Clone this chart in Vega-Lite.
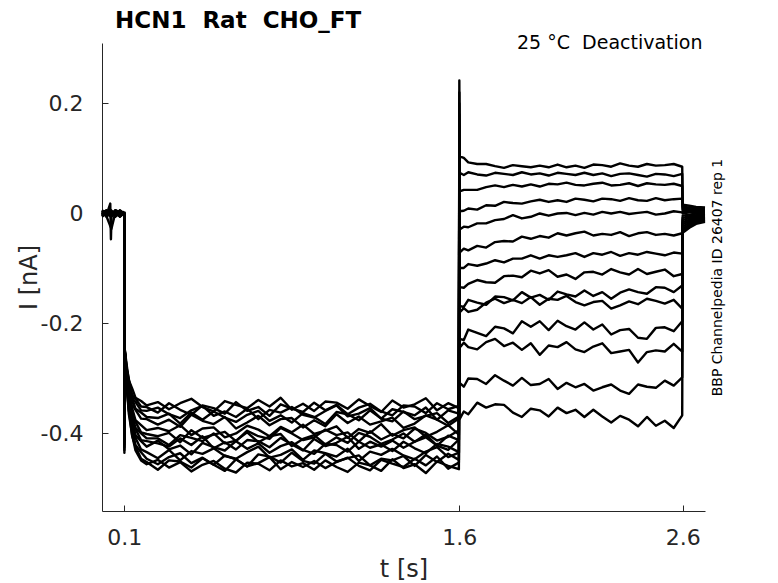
{
"$schema": "https://vega.github.io/schema/vega-lite/v6.json",
"width": 603,
"height": 468,
"autosize": "none",
"padding": {"left": 102, "top": 43, "right": 73, "bottom": 72},
"background": "white",
"config": {"view": {"stroke": null}, "axis": {"grid": false}},
"title": {"text": "HCN1\u00a0 Rat\u00a0 CHO_FT", "anchor": "start", "frame": "group", "dx": 13, "dy": 22, "offset": 4, "baseline": "alphabetic", "font": "DejaVu Sans", "fontSize": 23, "fontWeight": "bold", "color": "black"},
"datasets": {"tr": [
{"s":1,"t":0,"i":0.002},{"s":1,"t":0.02,"i":-0.004},{"s":1,"t":0.04,"i":0.005},{"s":1,"t":0.06,"i":-0.003},{"s":1,"t":0.08,"i":0.004},{"s":1,"t":0.1,"i":-0.001},{"s":1,"t":0.1003,"i":-0.435},
{"s":1,"t":0.1012,"i":-0.245},{"s":1,"t":0.11,"i":-0.274},{"s":1,"t":0.12,"i":-0.303},{"s":1,"t":0.135,"i":-0.318},{"s":1,"t":0.15,"i":-0.335},{"s":1,"t":0.175,"i":-0.341},{"s":1,"t":0.2,"i":-0.349},
{"s":1,"t":0.25,"i":-0.343},{"s":1,"t":0.3,"i":-0.356},{"s":1,"t":0.35,"i":-0.345},{"s":1,"t":0.4,"i":-0.337},{"s":1,"t":0.45,"i":-0.352},{"s":1,"t":0.5,"i":-0.36},{"s":1,"t":0.55,"i":-0.341},{"s":1,"t":0.6,"i":-0.348},{"s":1,"t":0.65,"i":-0.354},{"s":1,"t":0.7,"i":-0.339},{"s":1,"t":0.75,"i":-0.351},{"s":1,"t":0.8,"i":-0.335},{"s":1,"t":0.85,"i":-0.357},{"s":1,"t":0.9,"i":-0.346},{"s":1,"t":0.95,"i":-0.359},{"s":1,"t":1.0,"i":-0.342},{"s":1,"t":1.05,"i":-0.344},{"s":1,"t":1.1,"i":-0.355},{"s":1,"t":1.15,"i":-0.338},{"s":1,"t":1.2,"i":-0.35},{"s":1,"t":1.25,"i":-0.361},{"s":1,"t":1.3,"i":-0.34},{"s":1,"t":1.35,"i":-0.353},{"s":1,"t":1.4,"i":-0.347},{"s":1,"t":1.45,"i":-0.336},{"s":1,"t":1.5,"i":-0.358},{"s":1,"t":1.55,"i":-0.345},{"s":1,"t":1.598,"i":-0.354},
{"s":1,"t":1.6,"i":0.242},{"s":1,"t":1.6012,"i":0.104},{"s":1,"t":1.62,"i":0.101},{"s":1,"t":1.64,"i":0.093},{"s":1,"t":1.68,"i":0.09},{"s":1,"t":1.72,"i":0.09},{"s":1,"t":1.76,"i":0.086},{"s":1,"t":1.8,"i":0.083},{"s":1,"t":1.84,"i":0.088},{"s":1,"t":1.88,"i":0.086},{"s":1,"t":1.92,"i":0.084},{"s":1,"t":1.96,"i":0.087},{"s":1,"t":2.0,"i":0.084},{"s":1,"t":2.04,"i":0.089},{"s":1,"t":2.08,"i":0.084},{"s":1,"t":2.12,"i":0.087},{"s":1,"t":2.16,"i":0.083},{"s":1,"t":2.2,"i":0.089},{"s":1,"t":2.24,"i":0.088},{"s":1,"t":2.28,"i":0.085},{"s":1,"t":2.32,"i":0.091},{"s":1,"t":2.36,"i":0.087},{"s":1,"t":2.4,"i":0.085},{"s":1,"t":2.44,"i":0.09},{"s":1,"t":2.48,"i":0.087},{"s":1,"t":2.52,"i":0.088},{"s":1,"t":2.56,"i":0.09},{"s":1,"t":2.598,"i":0.085},
{"s":1,"t":2.6,"i":0.016},{"s":1,"t":2.63,"i":0.014},{"s":1,"t":2.66,"i":0.012},{"s":1,"t":2.7,"i":0.011},

{"s":2,"t":0,"i":-0.003},{"s":2,"t":0.02,"i":0.005},{"s":2,"t":0.04,"i":-0.002},{"s":2,"t":0.06,"i":0.006},{"s":2,"t":0.08,"i":-0.005},{"s":2,"t":0.1,"i":0.002},{"s":2,"t":0.1003,"i":-0.43},
{"s":2,"t":0.1012,"i":-0.246},{"s":2,"t":0.11,"i":-0.28},{"s":2,"t":0.12,"i":-0.301},{"s":2,"t":0.135,"i":-0.33},{"s":2,"t":0.15,"i":-0.337},{"s":2,"t":0.175,"i":-0.351},{"s":2,"t":0.2,"i":-0.352},
{"s":2,"t":0.25,"i":-0.362},{"s":2,"t":0.3,"i":-0.345},{"s":2,"t":0.35,"i":-0.357},{"s":2,"t":0.4,"i":-0.366},{"s":2,"t":0.45,"i":-0.349},{"s":2,"t":0.5,"i":-0.354},{"s":2,"t":0.55,"i":-0.364},{"s":2,"t":0.6,"i":-0.343},{"s":2,"t":0.65,"i":-0.359},{"s":2,"t":0.7,"i":-0.352},{"s":2,"t":0.75,"i":-0.368},{"s":2,"t":0.8,"i":-0.347},{"s":2,"t":0.85,"i":-0.355},{"s":2,"t":0.9,"i":-0.361},{"s":2,"t":0.95,"i":-0.344},{"s":2,"t":1.0,"i":-0.358},{"s":2,"t":1.05,"i":-0.348},{"s":2,"t":1.1,"i":-0.365},{"s":2,"t":1.15,"i":-0.353},{"s":2,"t":1.2,"i":-0.346},{"s":2,"t":1.25,"i":-0.36},{"s":2,"t":1.3,"i":-0.367},{"s":2,"t":1.35,"i":-0.349},{"s":2,"t":1.4,"i":-0.351},{"s":2,"t":1.45,"i":-0.363},{"s":2,"t":1.5,"i":-0.345},{"s":2,"t":1.55,"i":-0.356},{"s":2,"t":1.598,"i":-0.35},
{"s":2,"t":1.6,"i":0.22},{"s":2,"t":1.6012,"i":0.074},{"s":2,"t":1.62,"i":0.07},{"s":2,"t":1.64,"i":0.075},{"s":2,"t":1.68,"i":0.071},{"s":2,"t":1.72,"i":0.069},{"s":2,"t":1.76,"i":0.074},{"s":2,"t":1.8,"i":0.072},{"s":2,"t":1.84,"i":0.07},{"s":2,"t":1.88,"i":0.075},{"s":2,"t":1.92,"i":0.071},{"s":2,"t":1.96,"i":0.073},{"s":2,"t":2.0,"i":0.069},{"s":2,"t":2.04,"i":0.074},{"s":2,"t":2.08,"i":0.072},{"s":2,"t":2.12,"i":0.07},{"s":2,"t":2.16,"i":0.074},{"s":2,"t":2.2,"i":0.07},{"s":2,"t":2.24,"i":0.073},{"s":2,"t":2.28,"i":0.068},{"s":2,"t":2.32,"i":0.072},{"s":2,"t":2.36,"i":0.073},{"s":2,"t":2.4,"i":0.07},{"s":2,"t":2.44,"i":0.067},{"s":2,"t":2.48,"i":0.072},{"s":2,"t":2.52,"i":0.071},{"s":2,"t":2.56,"i":0.068},{"s":2,"t":2.598,"i":0.072},
{"s":2,"t":2.6,"i":0.012},{"s":2,"t":2.63,"i":0.011},{"s":2,"t":2.66,"i":0.01},{"s":2,"t":2.7,"i":0.009},

{"s":3,"t":0,"i":0.001},{"s":3,"t":0.02,"i":-0.003},{"s":3,"t":0.037,"i":0.018},{"s":3,"t":0.04,"i":-0.047},{"s":3,"t":0.043,"i":0.003},{"s":3,"t":0.06,"i":-0.004},{"s":3,"t":0.08,"i":0.005},{"s":3,"t":0.1,"i":0},{"s":3,"t":0.1003,"i":-0.425},
{"s":3,"t":0.1012,"i":-0.244},{"s":3,"t":0.11,"i":-0.283},{"s":3,"t":0.12,"i":-0.305},{"s":3,"t":0.135,"i":-0.335},{"s":3,"t":0.15,"i":-0.343},{"s":3,"t":0.175,"i":-0.358},{"s":3,"t":0.2,"i":-0.359},
{"s":3,"t":0.25,"i":-0.353},{"s":3,"t":0.3,"i":-0.365},{"s":3,"t":0.35,"i":-0.372},{"s":3,"t":0.4,"i":-0.358},{"s":3,"t":0.45,"i":-0.35},{"s":3,"t":0.5,"i":-0.368},{"s":3,"t":0.55,"i":-0.36},{"s":3,"t":0.6,"i":-0.37},{"s":3,"t":0.65,"i":-0.355},{"s":3,"t":0.7,"i":-0.374},{"s":3,"t":0.75,"i":-0.357},{"s":3,"t":0.8,"i":-0.362},{"s":3,"t":0.85,"i":-0.352},{"s":3,"t":0.9,"i":-0.366},{"s":3,"t":0.95,"i":-0.371},{"s":3,"t":1.0,"i":-0.359},{"s":3,"t":1.05,"i":-0.349},{"s":3,"t":1.1,"i":-0.369},{"s":3,"t":1.15,"i":-0.364},{"s":3,"t":1.2,"i":-0.354},{"s":3,"t":1.25,"i":-0.373},{"s":3,"t":1.3,"i":-0.356},{"s":3,"t":1.35,"i":-0.361},{"s":3,"t":1.4,"i":-0.367},{"s":3,"t":1.45,"i":-0.353},{"s":3,"t":1.5,"i":-0.375},{"s":3,"t":1.55,"i":-0.358},{"s":3,"t":1.598,"i":-0.364},
{"s":3,"t":1.6,"i":0.2},{"s":3,"t":1.6012,"i":0.04},{"s":3,"t":1.62,"i":0.043},{"s":3,"t":1.64,"i":0.043},{"s":3,"t":1.68,"i":0.043},{"s":3,"t":1.72,"i":0.048},{"s":3,"t":1.76,"i":0.051},{"s":3,"t":1.8,"i":0.048},{"s":3,"t":1.84,"i":0.052},{"s":3,"t":1.88,"i":0.049},{"s":3,"t":1.92,"i":0.053},{"s":3,"t":1.96,"i":0.049},{"s":3,"t":2.0,"i":0.054},{"s":3,"t":2.04,"i":0.053},{"s":3,"t":2.08,"i":0.056},{"s":3,"t":2.12,"i":0.052},{"s":3,"t":2.16,"i":0.051},{"s":3,"t":2.2,"i":0.054},{"s":3,"t":2.24,"i":0.056},{"s":3,"t":2.28,"i":0.051},{"s":3,"t":2.32,"i":0.052},{"s":3,"t":2.36,"i":0.055},{"s":3,"t":2.4,"i":0.05},{"s":3,"t":2.44,"i":0.055},{"s":3,"t":2.48,"i":0.053},{"s":3,"t":2.52,"i":0.052},{"s":3,"t":2.56,"i":0.054},{"s":3,"t":2.598,"i":0.05},
{"s":3,"t":2.6,"i":0.008},{"s":3,"t":2.63,"i":0.008},{"s":3,"t":2.66,"i":0.007},{"s":3,"t":2.7,"i":0.007},

{"s":4,"t":0,"i":-0.005},{"s":4,"t":0.02,"i":0.003},{"s":4,"t":0.04,"i":-0.006},{"s":4,"t":0.06,"i":0.001},{"s":4,"t":0.08,"i":0.003},{"s":4,"t":0.1,"i":-0.002},{"s":4,"t":0.1003,"i":-0.42},
{"s":4,"t":0.1012,"i":-0.248},{"s":4,"t":0.11,"i":-0.281},{"s":4,"t":0.12,"i":-0.314},{"s":4,"t":0.135,"i":-0.336},{"s":4,"t":0.15,"i":-0.355},{"s":4,"t":0.175,"i":-0.362},{"s":4,"t":0.2,"i":-0.37},
{"s":4,"t":0.25,"i":-0.372},{"s":4,"t":0.3,"i":-0.364},{"s":4,"t":0.35,"i":-0.382},{"s":4,"t":0.4,"i":-0.362},{"s":4,"t":0.45,"i":-0.375},{"s":4,"t":0.5,"i":-0.36},{"s":4,"t":0.55,"i":-0.371},{"s":4,"t":0.6,"i":-0.379},{"s":4,"t":0.65,"i":-0.366},{"s":4,"t":0.7,"i":-0.359},{"s":4,"t":0.75,"i":-0.377},{"s":4,"t":0.8,"i":-0.367},{"s":4,"t":0.85,"i":-0.38},{"s":4,"t":0.9,"i":-0.363},{"s":4,"t":0.95,"i":-0.37},{"s":4,"t":1.0,"i":-0.383},{"s":4,"t":1.05,"i":-0.361},{"s":4,"t":1.1,"i":-0.365},{"s":4,"t":1.15,"i":-0.376},{"s":4,"t":1.2,"i":-0.358},{"s":4,"t":1.25,"i":-0.373},{"s":4,"t":1.3,"i":-0.378},{"s":4,"t":1.35,"i":-0.36},{"s":4,"t":1.4,"i":-0.374},{"s":4,"t":1.45,"i":-0.368},{"s":4,"t":1.5,"i":-0.363},{"s":4,"t":1.55,"i":-0.381},{"s":4,"t":1.598,"i":-0.369},
{"s":4,"t":1.6,"i":0.18},{"s":4,"t":1.6012,"i":0.004},{"s":4,"t":1.62,"i":0.005},{"s":4,"t":1.64,"i":0.009},{"s":4,"t":1.68,"i":0.007},{"s":4,"t":1.72,"i":0.015},{"s":4,"t":1.76,"i":0.014},{"s":4,"t":1.8,"i":0.021},{"s":4,"t":1.84,"i":0.019},{"s":4,"t":1.88,"i":0.018},{"s":4,"t":1.92,"i":0.022},{"s":4,"t":1.96,"i":0.025},{"s":4,"t":2.0,"i":0.021},{"s":4,"t":2.04,"i":0.024},{"s":4,"t":2.08,"i":0.021},{"s":4,"t":2.12,"i":0.027},{"s":4,"t":2.16,"i":0.025},{"s":4,"t":2.2,"i":0.022},{"s":4,"t":2.24,"i":0.027},{"s":4,"t":2.28,"i":0.026},{"s":4,"t":2.32,"i":0.023},{"s":4,"t":2.36,"i":0.028},{"s":4,"t":2.4,"i":0.024},{"s":4,"t":2.44,"i":0.023},{"s":4,"t":2.48,"i":0.028},{"s":4,"t":2.52,"i":0.024},{"s":4,"t":2.56,"i":0.026},{"s":4,"t":2.598,"i":0.027},
{"s":4,"t":2.6,"i":0.004},{"s":4,"t":2.63,"i":0.005},{"s":4,"t":2.66,"i":0.005},{"s":4,"t":2.7,"i":0.005},

{"s":5,"t":0,"i":0.006},{"s":5,"t":0.02,"i":-0.002},{"s":5,"t":0.04,"i":0.003},{"s":5,"t":0.06,"i":-0.005},{"s":5,"t":0.08,"i":-0.001},{"s":5,"t":0.1,"i":0.003},{"s":5,"t":0.1003,"i":-0.415},
{"s":5,"t":0.1012,"i":-0.247},{"s":5,"t":0.11,"i":-0.288},{"s":5,"t":0.12,"i":-0.314},{"s":5,"t":0.135,"i":-0.347},{"s":5,"t":0.15,"i":-0.357},{"s":5,"t":0.175,"i":-0.373},{"s":5,"t":0.2,"i":-0.374},
{"s":5,"t":0.25,"i":-0.384},{"s":5,"t":0.3,"i":-0.375},{"s":5,"t":0.35,"i":-0.388},{"s":5,"t":0.4,"i":-0.366},{"s":5,"t":0.45,"i":-0.377},{"s":5,"t":0.5,"i":-0.383},{"s":5,"t":0.55,"i":-0.37},{"s":5,"t":0.6,"i":-0.391},{"s":5,"t":0.65,"i":-0.38},{"s":5,"t":0.7,"i":-0.368},{"s":5,"t":0.75,"i":-0.385},{"s":5,"t":0.8,"i":-0.374},{"s":5,"t":0.85,"i":-0.372},{"s":5,"t":0.9,"i":-0.389},{"s":5,"t":0.95,"i":-0.376},{"s":5,"t":1.0,"i":-0.387},{"s":5,"t":1.05,"i":-0.365},{"s":5,"t":1.1,"i":-0.381},{"s":5,"t":1.15,"i":-0.369},{"s":5,"t":1.2,"i":-0.384},{"s":5,"t":1.25,"i":-0.378},{"s":5,"t":1.3,"i":-0.371},{"s":5,"t":1.35,"i":-0.39},{"s":5,"t":1.4,"i":-0.382},{"s":5,"t":1.45,"i":-0.367},{"s":5,"t":1.5,"i":-0.375},{"s":5,"t":1.55,"i":-0.386},{"s":5,"t":1.598,"i":-0.373},
{"s":5,"t":1.6,"i":0.16},{"s":5,"t":1.6012,"i":-0.029},{"s":5,"t":1.62,"i":-0.024},{"s":5,"t":1.64,"i":-0.025},{"s":5,"t":1.68,"i":-0.018},{"s":5,"t":1.72,"i":-0.018},{"s":5,"t":1.76,"i":-0.012},{"s":5,"t":1.8,"i":-0.01},{"s":5,"t":1.84,"i":-0.003},{"s":5,"t":1.88,"i":-0.009},{"s":5,"t":1.92,"i":-0.006},{"s":5,"t":1.96,"i":0},{"s":5,"t":2.0,"i":-0.004},{"s":5,"t":2.04,"i":0},{"s":5,"t":2.08,"i":0.001},{"s":5,"t":2.12,"i":-0.003},{"s":5,"t":2.16,"i":0.001},{"s":5,"t":2.2,"i":-0.002},{"s":5,"t":2.24,"i":0.003},{"s":5,"t":2.28,"i":0},{"s":5,"t":2.32,"i":0.003},{"s":5,"t":2.36,"i":-0.001},{"s":5,"t":2.4,"i":0.001},{"s":5,"t":2.44,"i":0.003},{"s":5,"t":2.48,"i":-0.002},{"s":5,"t":2.52,"i":0},{"s":5,"t":2.56,"i":0.004},{"s":5,"t":2.598,"i":0.002},
{"s":5,"t":2.6,"i":0},{"s":5,"t":2.63,"i":0.002},{"s":5,"t":2.66,"i":0.003},{"s":5,"t":2.7,"i":0.003},

{"s":6,"t":0,"i":-0.001},{"s":6,"t":0.02,"i":0.006},{"s":6,"t":0.04,"i":-0.004},{"s":6,"t":0.06,"i":0.004},{"s":6,"t":0.08,"i":-0.006},{"s":6,"t":0.1,"i":0.001},{"s":6,"t":0.1003,"i":-0.41},
{"s":6,"t":0.1012,"i":-0.249},{"s":6,"t":0.11,"i":-0.289},{"s":6,"t":0.12,"i":-0.328},{"s":6,"t":0.135,"i":-0.354},{"s":6,"t":0.15,"i":-0.376},{"s":6,"t":0.175,"i":-0.385},{"s":6,"t":0.2,"i":-0.394},
{"s":6,"t":0.25,"i":-0.39},{"s":6,"t":0.3,"i":-0.396},{"s":6,"t":0.35,"i":-0.385},{"s":6,"t":0.4,"i":-0.403},{"s":6,"t":0.45,"i":-0.391},{"s":6,"t":0.5,"i":-0.389},{"s":6,"t":0.55,"i":-0.407},{"s":6,"t":0.6,"i":-0.4},{"s":6,"t":0.65,"i":-0.386},{"s":6,"t":0.7,"i":-0.393},{"s":6,"t":0.75,"i":-0.405},{"s":6,"t":0.8,"i":-0.388},{"s":6,"t":0.85,"i":-0.398},{"s":6,"t":0.9,"i":-0.384},{"s":6,"t":0.95,"i":-0.401},{"s":6,"t":1.0,"i":-0.395},{"s":6,"t":1.05,"i":-0.387},{"s":6,"t":1.1,"i":-0.408},{"s":6,"t":1.15,"i":-0.392},{"s":6,"t":1.2,"i":-0.399},{"s":6,"t":1.25,"i":-0.383},{"s":6,"t":1.3,"i":-0.404},{"s":6,"t":1.35,"i":-0.394},{"s":6,"t":1.4,"i":-0.389},{"s":6,"t":1.45,"i":-0.406},{"s":6,"t":1.5,"i":-0.397},{"s":6,"t":1.55,"i":-0.385},{"s":6,"t":1.598,"i":-0.402},
{"s":6,"t":1.6,"i":0.14},{"s":6,"t":1.6012,"i":-0.071},{"s":6,"t":1.62,"i":-0.064},{"s":6,"t":1.64,"i":-0.067},{"s":6,"t":1.68,"i":-0.059},{"s":6,"t":1.72,"i":-0.062},{"s":6,"t":1.76,"i":-0.052},{"s":6,"t":1.8,"i":-0.05},{"s":6,"t":1.84,"i":-0.051},{"s":6,"t":1.88,"i":-0.042},{"s":6,"t":1.92,"i":-0.046},{"s":6,"t":1.96,"i":-0.041},{"s":6,"t":2.0,"i":-0.044},{"s":6,"t":2.04,"i":-0.036},{"s":6,"t":2.08,"i":-0.04},{"s":6,"t":2.12,"i":-0.036},{"s":6,"t":2.16,"i":-0.033},{"s":6,"t":2.2,"i":-0.04},{"s":6,"t":2.24,"i":-0.037},{"s":6,"t":2.28,"i":-0.039},{"s":6,"t":2.32,"i":-0.034},{"s":6,"t":2.36,"i":-0.041},{"s":6,"t":2.4,"i":-0.036},{"s":6,"t":2.44,"i":-0.034},{"s":6,"t":2.48,"i":-0.039},{"s":6,"t":2.52,"i":-0.037},{"s":6,"t":2.56,"i":-0.04},{"s":6,"t":2.598,"i":-0.036},
{"s":6,"t":2.6,"i":-0.004},{"s":6,"t":2.63,"i":-0.002},{"s":6,"t":2.66,"i":0},{"s":6,"t":2.7,"i":0.001},

{"s":7,"t":0,"i":0.003},{"s":7,"t":0.02,"i":-0.005},{"s":7,"t":0.042,"i":-0.028},{"s":7,"t":0.06,"i":0.002},{"s":7,"t":0.08,"i":-0.003},{"s":7,"t":0.1,"i":-0.002},{"s":7,"t":0.1003,"i":-0.41},
{"s":7,"t":0.1012,"i":-0.246},{"s":7,"t":0.11,"i":-0.297},{"s":7,"t":0.12,"i":-0.328},{"s":7,"t":0.135,"i":-0.365},{"s":7,"t":0.15,"i":-0.379},{"s":7,"t":0.175,"i":-0.398},{"s":7,"t":0.2,"i":-0.401},
{"s":7,"t":0.25,"i":-0.405},{"s":7,"t":0.3,"i":-0.399},{"s":7,"t":0.35,"i":-0.416},{"s":7,"t":0.4,"i":-0.394},{"s":7,"t":0.45,"i":-0.408},{"s":7,"t":0.5,"i":-0.402},{"s":7,"t":0.55,"i":-0.397},{"s":7,"t":0.6,"i":-0.414},{"s":7,"t":0.65,"i":-0.395},{"s":7,"t":0.7,"i":-0.405},{"s":7,"t":0.75,"i":-0.41},{"s":7,"t":0.8,"i":-0.39},{"s":7,"t":0.85,"i":-0.4},{"s":7,"t":0.9,"i":-0.412},{"s":7,"t":0.95,"i":-0.407},{"s":7,"t":1.0,"i":-0.393},{"s":7,"t":1.05,"i":-0.403},{"s":7,"t":1.1,"i":-0.398},{"s":7,"t":1.15,"i":-0.415},{"s":7,"t":1.2,"i":-0.396},{"s":7,"t":1.25,"i":-0.411},{"s":7,"t":1.3,"i":-0.401},{"s":7,"t":1.35,"i":-0.409},{"s":7,"t":1.4,"i":-0.391},{"s":7,"t":1.45,"i":-0.399},{"s":7,"t":1.5,"i":-0.413},{"s":7,"t":1.55,"i":-0.406},{"s":7,"t":1.598,"i":-0.394},
{"s":7,"t":1.6,"i":0.12},{"s":7,"t":1.6012,"i":-0.099},{"s":7,"t":1.62,"i":-0.099},{"s":7,"t":1.64,"i":-0.092},{"s":7,"t":1.68,"i":-0.095},{"s":7,"t":1.72,"i":-0.091},{"s":7,"t":1.76,"i":-0.085},{"s":7,"t":1.8,"i":-0.089},{"s":7,"t":1.84,"i":-0.082},{"s":7,"t":1.88,"i":-0.082},{"s":7,"t":1.92,"i":-0.076},{"s":7,"t":1.96,"i":-0.082},{"s":7,"t":2.0,"i":-0.076},{"s":7,"t":2.04,"i":-0.079},{"s":7,"t":2.08,"i":-0.076},{"s":7,"t":2.12,"i":-0.072},{"s":7,"t":2.16,"i":-0.079},{"s":7,"t":2.2,"i":-0.072},{"s":7,"t":2.24,"i":-0.075},{"s":7,"t":2.28,"i":-0.07},{"s":7,"t":2.32,"i":-0.077},{"s":7,"t":2.36,"i":-0.072},{"s":7,"t":2.4,"i":-0.075},{"s":7,"t":2.44,"i":-0.07},{"s":7,"t":2.48,"i":-0.073},{"s":7,"t":2.52,"i":-0.076},{"s":7,"t":2.56,"i":-0.071},{"s":7,"t":2.598,"i":-0.073},
{"s":7,"t":2.6,"i":-0.008},{"s":7,"t":2.63,"i":-0.005},{"s":7,"t":2.66,"i":-0.003},{"s":7,"t":2.7,"i":-0.001},

{"s":8,"t":0,"i":-0.004},{"s":8,"t":0.02,"i":0.002},{"s":8,"t":0.04,"i":0.006},{"s":8,"t":0.06,"i":-0.002},{"s":8,"t":0.08,"i":0.005},{"s":8,"t":0.1,"i":0},{"s":8,"t":0.1003,"i":-0.405},
{"s":8,"t":0.1012,"i":-0.25},{"s":8,"t":0.11,"i":-0.294},{"s":8,"t":0.12,"i":-0.337},{"s":8,"t":0.135,"i":-0.366},{"s":8,"t":0.15,"i":-0.39},{"s":8,"t":0.175,"i":-0.4},{"s":8,"t":0.2,"i":-0.409},
{"s":8,"t":0.25,"i":-0.409},{"s":8,"t":0.3,"i":-0.421},{"s":8,"t":0.35,"i":-0.403},{"s":8,"t":0.4,"i":-0.408},{"s":8,"t":0.45,"i":-0.414},{"s":8,"t":0.5,"i":-0.4},{"s":8,"t":0.55,"i":-0.418},{"s":8,"t":0.6,"i":-0.413},{"s":8,"t":0.65,"i":-0.398},{"s":8,"t":0.7,"i":-0.416},{"s":8,"t":0.75,"i":-0.405},{"s":8,"t":0.8,"i":-0.401},{"s":8,"t":0.85,"i":-0.423},{"s":8,"t":0.9,"i":-0.41},{"s":8,"t":0.95,"i":-0.403},{"s":8,"t":1.0,"i":-0.42},{"s":8,"t":1.05,"i":-0.407},{"s":8,"t":1.1,"i":-0.417},{"s":8,"t":1.15,"i":-0.399},{"s":8,"t":1.2,"i":-0.406},{"s":8,"t":1.25,"i":-0.419},{"s":8,"t":1.3,"i":-0.411},{"s":8,"t":1.35,"i":-0.4},{"s":8,"t":1.4,"i":-0.415},{"s":8,"t":1.45,"i":-0.402},{"s":8,"t":1.5,"i":-0.422},{"s":8,"t":1.55,"i":-0.404},{"s":8,"t":1.598,"i":-0.412},
{"s":8,"t":1.6,"i":0.1},{"s":8,"t":1.6012,"i":-0.134},{"s":8,"t":1.62,"i":-0.135},{"s":8,"t":1.64,"i":-0.128},{"s":8,"t":1.68,"i":-0.121},{"s":8,"t":1.72,"i":-0.125},{"s":8,"t":1.76,"i":-0.126},{"s":8,"t":1.8,"i":-0.114},{"s":8,"t":1.84,"i":-0.113},{"s":8,"t":1.88,"i":-0.116},{"s":8,"t":1.92,"i":-0.104},{"s":8,"t":1.96,"i":-0.109},{"s":8,"t":2.0,"i":-0.103},{"s":8,"t":2.04,"i":-0.115},{"s":8,"t":2.08,"i":-0.111},{"s":8,"t":2.12,"i":-0.119},{"s":8,"t":2.16,"i":-0.107},{"s":8,"t":2.2,"i":-0.106},{"s":8,"t":2.24,"i":-0.111},{"s":8,"t":2.28,"i":-0.101},{"s":8,"t":2.32,"i":-0.107},{"s":8,"t":2.36,"i":-0.111},{"s":8,"t":2.4,"i":-0.101},{"s":8,"t":2.44,"i":-0.11},{"s":8,"t":2.48,"i":-0.106},{"s":8,"t":2.52,"i":-0.102},{"s":8,"t":2.56,"i":-0.114},{"s":8,"t":2.598,"i":-0.11},
{"s":8,"t":2.6,"i":-0.012},{"s":8,"t":2.63,"i":-0.008},{"s":8,"t":2.66,"i":-0.005},{"s":8,"t":2.7,"i":-0.003},

{"s":9,"t":0,"i":0.005},{"s":9,"t":0.02,"i":-0.006},{"s":9,"t":0.04,"i":0.001},{"s":9,"t":0.06,"i":0.003},{"s":9,"t":0.08,"i":-0.004},{"s":9,"t":0.1,"i":0.002},{"s":9,"t":0.1003,"i":-0.4},
{"s":9,"t":0.1012,"i":-0.249},{"s":9,"t":0.11,"i":-0.302},{"s":9,"t":0.12,"i":-0.336},{"s":9,"t":0.135,"i":-0.377},{"s":9,"t":0.15,"i":-0.392},{"s":9,"t":0.175,"i":-0.412},{"s":9,"t":0.2,"i":-0.414},
{"s":9,"t":0.25,"i":-0.418},{"s":9,"t":0.3,"i":-0.424},{"s":9,"t":0.35,"i":-0.409},{"s":9,"t":0.4,"i":-0.421},{"s":9,"t":0.45,"i":-0.405},{"s":9,"t":0.5,"i":-0.427},{"s":9,"t":0.55,"i":-0.416},{"s":9,"t":0.6,"i":-0.429},{"s":9,"t":0.65,"i":-0.412},{"s":9,"t":0.7,"i":-0.414},{"s":9,"t":0.75,"i":-0.425},{"s":9,"t":0.8,"i":-0.408},{"s":9,"t":0.85,"i":-0.42},{"s":9,"t":0.9,"i":-0.431},{"s":9,"t":0.95,"i":-0.41},{"s":9,"t":1.0,"i":-0.423},{"s":9,"t":1.05,"i":-0.417},{"s":9,"t":1.1,"i":-0.406},{"s":9,"t":1.15,"i":-0.428},{"s":9,"t":1.2,"i":-0.415},{"s":9,"t":1.25,"i":-0.424},{"s":9,"t":1.3,"i":-0.413},{"s":9,"t":1.35,"i":-0.426},{"s":9,"t":1.4,"i":-0.415},{"s":9,"t":1.45,"i":-0.407},{"s":9,"t":1.5,"i":-0.422},{"s":9,"t":1.55,"i":-0.43},{"s":9,"t":1.598,"i":-0.411},
{"s":9,"t":1.6,"i":0.08},{"s":9,"t":1.6012,"i":-0.168},{"s":9,"t":1.62,"i":-0.17},{"s":9,"t":1.64,"i":-0.157},{"s":9,"t":1.68,"i":-0.162},{"s":9,"t":1.72,"i":-0.166},{"s":9,"t":1.76,"i":-0.151},{"s":9,"t":1.8,"i":-0.152},{"s":9,"t":1.84,"i":-0.158},{"s":9,"t":1.88,"i":-0.143},{"s":9,"t":1.92,"i":-0.153},{"s":9,"t":1.96,"i":-0.148},{"s":9,"t":2.0,"i":-0.157},{"s":9,"t":2.04,"i":-0.142},{"s":9,"t":2.08,"i":-0.147},{"s":9,"t":2.12,"i":-0.151},{"s":9,"t":2.16,"i":-0.14},{"s":9,"t":2.2,"i":-0.15},{"s":9,"t":2.24,"i":-0.143},{"s":9,"t":2.28,"i":-0.155},{"s":9,"t":2.32,"i":-0.144},{"s":9,"t":2.36,"i":-0.138},{"s":9,"t":2.4,"i":-0.143},{"s":9,"t":2.44,"i":-0.146},{"s":9,"t":2.48,"i":-0.134},{"s":9,"t":2.52,"i":-0.135},{"s":9,"t":2.56,"i":-0.143},{"s":9,"t":2.598,"i":-0.131},
{"s":9,"t":2.6,"i":-0.016},{"s":9,"t":2.63,"i":-0.011},{"s":9,"t":2.66,"i":-0.008},{"s":9,"t":2.7,"i":-0.005},

{"s":10,"t":0,"i":-0.002},{"s":10,"t":0.02,"i":0.004},{"s":10,"t":0.04,"i":-0.005},{"s":10,"t":0.06,"i":0.006},{"s":10,"t":0.08,"i":0.002},{"s":10,"t":0.1,"i":-0.003},{"s":10,"t":0.1003,"i":-0.4},
{"s":10,"t":0.1012,"i":-0.251},{"s":10,"t":0.11,"i":-0.299},{"s":10,"t":0.12,"i":-0.345},{"s":10,"t":0.135,"i":-0.376},{"s":10,"t":0.15,"i":-0.403},{"s":10,"t":0.175,"i":-0.414},{"s":10,"t":0.2,"i":-0.424},
{"s":10,"t":0.25,"i":-0.413},{"s":10,"t":0.3,"i":-0.429},{"s":10,"t":0.35,"i":-0.422},{"s":10,"t":0.4,"i":-0.438},{"s":10,"t":0.45,"i":-0.417},{"s":10,"t":0.5,"i":-0.425},{"s":10,"t":0.55,"i":-0.431},{"s":10,"t":0.6,"i":-0.414},{"s":10,"t":0.65,"i":-0.428},{"s":10,"t":0.7,"i":-0.418},{"s":10,"t":0.75,"i":-0.435},{"s":10,"t":0.8,"i":-0.423},{"s":10,"t":0.85,"i":-0.416},{"s":10,"t":0.9,"i":-0.43},{"s":10,"t":0.95,"i":-0.437},{"s":10,"t":1.0,"i":-0.419},{"s":10,"t":1.05,"i":-0.421},{"s":10,"t":1.1,"i":-0.433},{"s":10,"t":1.15,"i":-0.415},{"s":10,"t":1.2,"i":-0.426},{"s":10,"t":1.25,"i":-0.42},{"s":10,"t":1.3,"i":-0.432},{"s":10,"t":1.35,"i":-0.415},{"s":10,"t":1.4,"i":-0.427},{"s":10,"t":1.45,"i":-0.436},{"s":10,"t":1.5,"i":-0.419},{"s":10,"t":1.55,"i":-0.424},{"s":10,"t":1.598,"i":-0.434},
{"s":10,"t":1.6,"i":0.06},{"s":10,"t":1.6012,"i":-0.18},{"s":10,"t":1.62,"i":-0.172},{"s":10,"t":1.64,"i":-0.179},{"s":10,"t":1.68,"i":-0.175},{"s":10,"t":1.72,"i":-0.162},{"s":10,"t":1.76,"i":-0.155},{"s":10,"t":1.8,"i":-0.163},{"s":10,"t":1.84,"i":-0.157},{"s":10,"t":1.88,"i":-0.163},{"s":10,"t":1.92,"i":-0.152},{"s":10,"t":1.96,"i":-0.166},{"s":10,"t":2.0,"i":-0.155},{"s":10,"t":2.04,"i":-0.157},{"s":10,"t":2.08,"i":-0.15},{"s":10,"t":2.12,"i":-0.161},{"s":10,"t":2.16,"i":-0.167},{"s":10,"t":2.2,"i":-0.161},{"s":10,"t":2.24,"i":-0.159},{"s":10,"t":2.28,"i":-0.173},{"s":10,"t":2.32,"i":-0.167},{"s":10,"t":2.36,"i":-0.16},{"s":10,"t":2.4,"i":-0.165},{"s":10,"t":2.44,"i":-0.155},{"s":10,"t":2.48,"i":-0.159},{"s":10,"t":2.52,"i":-0.164},{"s":10,"t":2.56,"i":-0.157},{"s":10,"t":2.598,"i":-0.173},
{"s":10,"t":2.6,"i":-0.02},{"s":10,"t":2.63,"i":-0.014},{"s":10,"t":2.66,"i":-0.01},{"s":10,"t":2.7,"i":-0.007},

{"s":11,"t":0,"i":0.001},{"s":11,"t":0.02,"i":-0.003},{"s":11,"t":0.04,"i":0.004},{"s":11,"t":0.06,"i":-0.006},{"s":11,"t":0.08,"i":0.003},{"s":11,"t":0.1,"i":0.001},{"s":11,"t":0.1003,"i":-0.395},
{"s":11,"t":0.1012,"i":-0.25},{"s":11,"t":0.11,"i":-0.307},{"s":11,"t":0.12,"i":-0.346},{"s":11,"t":0.135,"i":-0.391},{"s":11,"t":0.15,"i":-0.408},{"s":11,"t":0.175,"i":-0.429},{"s":11,"t":0.2,"i":-0.434},
{"s":11,"t":0.25,"i":-0.445},{"s":11,"t":0.3,"i":-0.43},{"s":11,"t":0.35,"i":-0.449},{"s":11,"t":0.4,"i":-0.432},{"s":11,"t":0.45,"i":-0.437},{"s":11,"t":0.5,"i":-0.427},{"s":11,"t":0.55,"i":-0.441},{"s":11,"t":0.6,"i":-0.446},{"s":11,"t":0.65,"i":-0.434},{"s":11,"t":0.7,"i":-0.424},{"s":11,"t":0.75,"i":-0.444},{"s":11,"t":0.8,"i":-0.439},{"s":11,"t":0.85,"i":-0.429},{"s":11,"t":0.9,"i":-0.448},{"s":11,"t":0.95,"i":-0.431},{"s":11,"t":1.0,"i":-0.436},{"s":11,"t":1.05,"i":-0.442},{"s":11,"t":1.1,"i":-0.428},{"s":11,"t":1.15,"i":-0.45},{"s":11,"t":1.2,"i":-0.433},{"s":11,"t":1.25,"i":-0.439},{"s":11,"t":1.3,"i":-0.428},{"s":11,"t":1.35,"i":-0.44},{"s":11,"t":1.4,"i":-0.447},{"s":11,"t":1.45,"i":-0.433},{"s":11,"t":1.5,"i":-0.425},{"s":11,"t":1.55,"i":-0.443},{"s":11,"t":1.598,"i":-0.435},
{"s":11,"t":1.6,"i":0.04},{"s":11,"t":1.6012,"i":-0.228},{"s":11,"t":1.62,"i":-0.23},{"s":11,"t":1.64,"i":-0.211},{"s":11,"t":1.68,"i":-0.217},{"s":11,"t":1.72,"i":-0.223},{"s":11,"t":1.76,"i":-0.206},{"s":11,"t":1.8,"i":-0.209},{"s":11,"t":1.84,"i":-0.218},{"s":11,"t":1.88,"i":-0.196},{"s":11,"t":1.92,"i":-0.206},{"s":11,"t":1.96,"i":-0.196},{"s":11,"t":2.0,"i":-0.212},{"s":11,"t":2.04,"i":-0.195},{"s":11,"t":2.08,"i":-0.205},{"s":11,"t":2.12,"i":-0.211},{"s":11,"t":2.16,"i":-0.198},{"s":11,"t":2.2,"i":-0.211},{"s":11,"t":2.24,"i":-0.202},{"s":11,"t":2.28,"i":-0.22},{"s":11,"t":2.32,"i":-0.212},{"s":11,"t":2.36,"i":-0.21},{"s":11,"t":2.4,"i":-0.226},{"s":11,"t":2.44,"i":-0.228},{"s":11,"t":2.48,"i":-0.208},{"s":11,"t":2.52,"i":-0.207},{"s":11,"t":2.56,"i":-0.214},{"s":11,"t":2.598,"i":-0.196},
{"s":11,"t":2.6,"i":-0.024},{"s":11,"t":2.63,"i":-0.017},{"s":11,"t":2.66,"i":-0.012},{"s":11,"t":2.7,"i":-0.009},

{"s":12,"t":0,"i":-0.006},{"s":12,"t":0.02,"i":0.001},{"s":12,"t":0.04,"i":-0.003},{"s":12,"t":0.06,"i":0.005},{"s":12,"t":0.08,"i":-0.002},{"s":12,"t":0.1,"i":0.003},{"s":12,"t":0.1003,"i":-0.39},
{"s":12,"t":0.1012,"i":-0.252},{"s":12,"t":0.11,"i":-0.306},{"s":12,"t":0.12,"i":-0.357},{"s":12,"t":0.135,"i":-0.393},{"s":12,"t":0.15,"i":-0.421},{"s":12,"t":0.175,"i":-0.434},{"s":12,"t":0.2,"i":-0.446},
{"s":12,"t":0.25,"i":-0.456},{"s":12,"t":0.3,"i":-0.443},{"s":12,"t":0.35,"i":-0.436},{"s":12,"t":0.4,"i":-0.454},{"s":12,"t":0.45,"i":-0.444},{"s":12,"t":0.5,"i":-0.457},{"s":12,"t":0.55,"i":-0.44},{"s":12,"t":0.6,"i":-0.447},{"s":12,"t":0.65,"i":-0.46},{"s":12,"t":0.7,"i":-0.438},{"s":12,"t":0.75,"i":-0.442},{"s":12,"t":0.8,"i":-0.453},{"s":12,"t":0.85,"i":-0.435},{"s":12,"t":0.9,"i":-0.45},{"s":12,"t":0.95,"i":-0.455},{"s":12,"t":1.0,"i":-0.437},{"s":12,"t":1.05,"i":-0.451},{"s":12,"t":1.1,"i":-0.445},{"s":12,"t":1.15,"i":-0.44},{"s":12,"t":1.2,"i":-0.458},{"s":12,"t":1.25,"i":-0.446},{"s":12,"t":1.3,"i":-0.449},{"s":12,"t":1.35,"i":-0.441},{"s":12,"t":1.4,"i":-0.459},{"s":12,"t":1.45,"i":-0.439},{"s":12,"t":1.5,"i":-0.452},{"s":12,"t":1.55,"i":-0.437},{"s":12,"t":1.598,"i":-0.448},
{"s":12,"t":1.6,"i":0.02},{"s":12,"t":1.6012,"i":-0.244},{"s":12,"t":1.62,"i":-0.235},{"s":12,"t":1.64,"i":-0.243},{"s":12,"t":1.68,"i":-0.247},{"s":12,"t":1.72,"i":-0.234},{"s":12,"t":1.76,"i":-0.228},{"s":12,"t":1.8,"i":-0.241},{"s":12,"t":1.84,"i":-0.235},{"s":12,"t":1.88,"i":-0.248},{"s":12,"t":1.92,"i":-0.236},{"s":12,"t":1.96,"i":-0.257},{"s":12,"t":2.0,"i":-0.24},{"s":12,"t":2.04,"i":-0.243},{"s":12,"t":2.08,"i":-0.234},{"s":12,"t":2.12,"i":-0.247},{"s":12,"t":2.16,"i":-0.252},{"s":12,"t":2.2,"i":-0.242},{"s":12,"t":2.24,"i":-0.236},{"s":12,"t":2.28,"i":-0.254},{"s":12,"t":2.32,"i":-0.251},{"s":12,"t":2.36,"i":-0.248},{"s":12,"t":2.4,"i":-0.271},{"s":12,"t":2.44,"i":-0.252},{"s":12,"t":2.48,"i":-0.249},{"s":12,"t":2.52,"i":-0.251},{"s":12,"t":2.56,"i":-0.237},{"s":12,"t":2.598,"i":-0.251},
{"s":12,"t":2.6,"i":-0.028},{"s":12,"t":2.63,"i":-0.02},{"s":12,"t":2.66,"i":-0.015},{"s":12,"t":2.7,"i":-0.011},

{"s":13,"t":0,"i":0.003},{"s":13,"t":0.02,"i":0.005},{"s":13,"t":0.04,"i":-0.001},{"s":13,"t":0.06,"i":-0.004},{"s":13,"t":0.08,"i":0.006},{"s":13,"t":0.1,"i":-0.001},{"s":13,"t":0.1003,"i":-0.39},
{"s":13,"t":0.1012,"i":-0.249},{"s":13,"t":0.11,"i":-0.313},{"s":13,"t":0.12,"i":-0.356},{"s":13,"t":0.135,"i":-0.405},{"s":13,"t":0.15,"i":-0.424},{"s":13,"t":0.175,"i":-0.446},{"s":13,"t":0.2,"i":-0.452},
{"s":13,"t":0.25,"i":-0.466},{"s":13,"t":0.3,"i":-0.449},{"s":13,"t":0.35,"i":-0.451},{"s":13,"t":0.4,"i":-0.462},{"s":13,"t":0.45,"i":-0.445},{"s":13,"t":0.5,"i":-0.457},{"s":13,"t":0.55,"i":-0.468},{"s":13,"t":0.6,"i":-0.447},{"s":13,"t":0.65,"i":-0.46},{"s":13,"t":0.7,"i":-0.454},{"s":13,"t":0.75,"i":-0.443},{"s":13,"t":0.8,"i":-0.465},{"s":13,"t":0.85,"i":-0.452},{"s":13,"t":0.9,"i":-0.461},{"s":13,"t":0.95,"i":-0.45},{"s":13,"t":1.0,"i":-0.463},{"s":13,"t":1.05,"i":-0.452},{"s":13,"t":1.1,"i":-0.444},{"s":13,"t":1.15,"i":-0.459},{"s":13,"t":1.2,"i":-0.467},{"s":13,"t":1.25,"i":-0.448},{"s":13,"t":1.3,"i":-0.455},{"s":13,"t":1.35,"i":-0.461},{"s":13,"t":1.4,"i":-0.446},{"s":13,"t":1.45,"i":-0.458},{"s":13,"t":1.5,"i":-0.442},{"s":13,"t":1.55,"i":-0.464},{"s":13,"t":1.598,"i":-0.453},
{"s":13,"t":1.6,"i":0},{"s":13,"t":1.6012,"i":-0.308},{"s":13,"t":1.62,"i":-0.315},{"s":13,"t":1.64,"i":-0.3},{"s":13,"t":1.68,"i":-0.301},{"s":13,"t":1.72,"i":-0.31},{"s":13,"t":1.76,"i":-0.294},{"s":13,"t":1.8,"i":-0.304},{"s":13,"t":1.84,"i":-0.313},{"s":13,"t":1.88,"i":-0.299},{"s":13,"t":1.92,"i":-0.312},{"s":13,"t":1.96,"i":-0.31},{"s":13,"t":2.0,"i":-0.301},{"s":13,"t":2.04,"i":-0.319},{"s":13,"t":2.08,"i":-0.308},{"s":13,"t":2.12,"i":-0.316},{"s":13,"t":2.16,"i":-0.31},{"s":13,"t":2.2,"i":-0.322},{"s":13,"t":2.24,"i":-0.316},{"s":13,"t":2.28,"i":-0.311},{"s":13,"t":2.32,"i":-0.322},{"s":13,"t":2.36,"i":-0.328},{"s":13,"t":2.4,"i":-0.311},{"s":13,"t":2.44,"i":-0.315},{"s":13,"t":2.48,"i":-0.317},{"s":13,"t":2.52,"i":-0.304},{"s":13,"t":2.56,"i":-0.313},{"s":13,"t":2.598,"i":-0.298},
{"s":13,"t":2.6,"i":-0.031},{"s":13,"t":2.63,"i":-0.023},{"s":13,"t":2.66,"i":-0.017},{"s":13,"t":2.7,"i":-0.013},

{"s":14,"t":0,"i":0},{"s":14,"t":0.02,"i":-0.004},{"s":14,"t":0.04,"i":0.003},{"s":14,"t":0.06,"i":0.002},{"s":14,"t":0.08,"i":-0.005},{"s":14,"t":0.1,"i":0.002},{"s":14,"t":0.1003,"i":-0.385},
{"s":14,"t":0.1012,"i":-0.251},{"s":14,"t":0.11,"i":-0.31},{"s":14,"t":0.12,"i":-0.364},{"s":14,"t":0.135,"i":-0.403},{"s":14,"t":0.15,"i":-0.431},{"s":14,"t":0.175,"i":-0.449},{"s":14,"t":0.2,"i":-0.456},
{"s":14,"t":0.25,"i":-0.448},{"s":14,"t":0.3,"i":-0.462},{"s":14,"t":0.35,"i":-0.452},{"s":14,"t":0.4,"i":-0.469},{"s":14,"t":0.45,"i":-0.457},{"s":14,"t":0.5,"i":-0.45},{"s":14,"t":0.55,"i":-0.464},{"s":14,"t":0.6,"i":-0.471},{"s":14,"t":0.65,"i":-0.453},{"s":14,"t":0.7,"i":-0.455},{"s":14,"t":0.75,"i":-0.467},{"s":14,"t":0.8,"i":-0.449},{"s":14,"t":0.85,"i":-0.46},{"s":14,"t":0.9,"i":-0.454},{"s":14,"t":0.95,"i":-0.466},{"s":14,"t":1.0,"i":-0.449},{"s":14,"t":1.05,"i":-0.461},{"s":14,"t":1.1,"i":-0.47},{"s":14,"t":1.15,"i":-0.453},{"s":14,"t":1.2,"i":-0.458},{"s":14,"t":1.25,"i":-0.468},{"s":14,"t":1.3,"i":-0.447},{"s":14,"t":1.35,"i":-0.463},{"s":14,"t":1.4,"i":-0.456},{"s":14,"t":1.45,"i":-0.472},{"s":14,"t":1.5,"i":-0.451},{"s":14,"t":1.55,"i":-0.459},{"s":14,"t":1.598,"i":-0.465},
{"s":14,"t":1.6,"i":-0.02},{"s":14,"t":1.6012,"i":-0.374},{"s":14,"t":1.62,"i":-0.36},{"s":14,"t":1.64,"i":-0.365},{"s":14,"t":1.68,"i":-0.344},{"s":14,"t":1.72,"i":-0.353},{"s":14,"t":1.76,"i":-0.347},{"s":14,"t":1.8,"i":-0.348},{"s":14,"t":1.84,"i":-0.362},{"s":14,"t":1.88,"i":-0.37},{"s":14,"t":1.92,"i":-0.355},{"s":14,"t":1.96,"i":-0.358},{"s":14,"t":2.0,"i":-0.369},{"s":14,"t":2.04,"i":-0.353},{"s":14,"t":2.08,"i":-0.363},{"s":14,"t":2.12,"i":-0.357},{"s":14,"t":2.16,"i":-0.37},{"s":14,"t":2.2,"i":-0.357},{"s":14,"t":2.24,"i":-0.369},{"s":14,"t":2.28,"i":-0.38},{"s":14,"t":2.32,"i":-0.368},{"s":14,"t":2.36,"i":-0.375},{"s":14,"t":2.4,"i":-0.387},{"s":14,"t":2.44,"i":-0.37},{"s":14,"t":2.48,"i":-0.386},{"s":14,"t":2.52,"i":-0.377},{"s":14,"t":2.56,"i":-0.39},{"s":14,"t":2.598,"i":-0.367},
{"s":14,"t":2.6,"i":-0.035},{"s":14,"t":2.63,"i":-0.026},{"s":14,"t":2.66,"i":-0.019},{"s":14,"t":2.7,"i":-0.015}
]},
"layer": [
{
"data": {"name": "tr"},
"transform": [{"filter": "datum.t >= 0.1"}],
"mark": {"type": "line", "color": "black", "strokeWidth": 2.4, "strokeJoin": "round", "clip": false},
"encoding": {
"x": {"field": "t", "type": "quantitative", "scale": {"domain": [0, 2.7], "nice": false, "zero": false},
 "axis": {"orient": "bottom", "values": [0.1, 1.6, 2.6], "labelExpr": "format(datum.value, '.1f')", "tickSize": -6, "tickColor": "#262626", "tickWidth": 1, "domainColor": "#262626", "domainWidth": 1, "labelFont": "DejaVu Sans", "labelFontSize": 22, "labelColor": "#262626", "labelPadding": 39, "labelBaseline": "alphabetic", "labelFlush": false, "title": "t [s]", "titleFont": "DejaVu Sans", "titleFontSize": 24, "titleFontWeight": "normal", "titleColor": "#262626", "titleY": 65, "titleBaseline": "alphabetic"}},
"y": {"field": "i", "type": "quantitative", "scale": {"domain": [-0.541, 0.31], "nice": false, "zero": false},
 "axis": {"orient": "left", "values": [-0.4, -0.2, 0, 0.2], "labelExpr": "datum.value == 0 ? '0' : replace(format(datum.value, '.1f'), '\u2212', '-')", "tickSize": -6, "tickColor": "#262626", "tickWidth": 1, "domainColor": "#262626", "domainWidth": 1, "labelFont": "DejaVu Sans", "labelFontSize": 22, "labelColor": "#262626", "labelPadding": 25, "labelFlush": false, "title": "I [nA]", "titleFont": "DejaVu Sans", "titleFontSize": 24, "titleFontWeight": "normal", "titleColor": "#262626", "titleX": -66, "titleBaseline": "alphabetic"}},
"detail": {"field": "s", "type": "nominal"}
}
},
{
"data": {"name": "tr"},
"transform": [{"filter": "datum.t <= 0.1"}],
"mark": {"type": "line", "color": "black", "strokeWidth": 2.4, "strokeJoin": "round", "clip": false},
"encoding": {
"x": {"field": "t", "type": "quantitative", "scale": {"domain": [0, 2.7], "nice": false, "zero": false},
 "axis": {"orient": "top", "labels": false, "ticks": false, "domain": false, "title": "25 \u00b0C\u00a0 Deactivation", "titleFont": "DejaVu Sans", "titleFontSize": 19, "titleFontWeight": "normal", "titleColor": "black", "titleX": 600, "titleY": 5, "titleAlign": "right", "titleBaseline": "alphabetic"}},
"y": {"field": "i", "type": "quantitative", "scale": {"domain": [-0.541, 0.31], "nice": false, "zero": false},
 "axis": {"orient": "right", "labels": false, "ticks": false, "domain": false, "title": "BBP Channelpedia ID 26407 rep 1", "titleFont": "DejaVu Sans", "titleFontSize": 14, "titleFontWeight": "normal", "titleColor": "black", "titleAngle": 270, "titleX": 16, "titleY": 234, "titleAlign": "center", "titleBaseline": "alphabetic"}},
"detail": {"field": "s", "type": "nominal"}
}
}
],
"resolve": {"axis": {"x": "independent", "y": "independent"}}
}
